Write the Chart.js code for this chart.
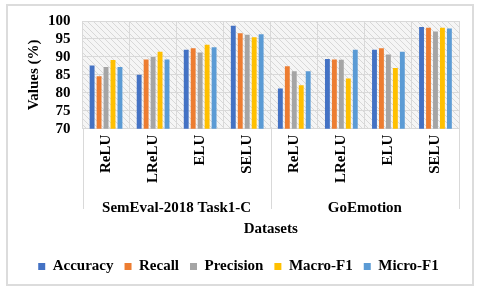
<!DOCTYPE html>
<html>
<head>
<meta charset="utf-8">
<script src="https://cdn.jsdelivr.net/npm/chart.js@4"></script>
<style>
  body { margin: 0; background: #fff; }
  #wrap { position: relative; width: 480px; height: 291px; }
  #frame { position: absolute; left: 6px; top: 4px; width: 464px; height: 278px; border: 2px solid #dcdcdc; pointer-events: none; }
</style>
</head>
<body>
<div id="wrap">
  <canvas id="chart" width="480" height="291"></canvas>
  <div id="frame"></div>
</div>
<script>
var categories = ['ReLU', 'LReLU', 'ELU', 'SELU', 'ReLU', 'LReLU', 'ELU', 'SELU'];
var groups = ['SemEval-2018 Task1-C', 'GoEmotion'];
var yTicks = [70, 75, 80, 85, 90, 95, 100];
var accuracy = [87.6, 85.0, 92.0, 98.7, 81.2, 89.4, 92.0, 98.3];
var recall = [84.6, 89.3, 92.4, 96.6, 87.4, 89.3, 92.4, 98.1];
var precision = [87.2, 90.0, 91.2, 96.2, 86.0, 89.2, 90.7, 97.1];
var macroF1 = [89.1, 91.4, 93.4, 95.5, 82.1, 84.0, 86.9, 98.1];
var microF1 = [87.2, 89.3, 92.7, 96.3, 86.0, 92.0, 91.4, 97.9];

var serif = { family: "'Liberation Serif', 'Times New Roman', serif", size: 15, weight: 'bold' };

// diagonal hatch behind the plot
var hatch = document.createElement('canvas');
hatch.width = 6; hatch.height = 6;
var hc = hatch.getContext('2d');
hc.fillStyle = '#f5f5f5';
hc.fillRect(0, 0, 6, 6);
hc.strokeStyle = '#d8d8d8';
hc.lineWidth = 1;
hc.beginPath();
hc.moveTo(0, 0); hc.lineTo(6, 6);
hc.moveTo(-3, 3); hc.lineTo(3, 9);
hc.moveTo(3, -3); hc.lineTo(9, 3);
hc.stroke();

var hatchPlugin = {
    id: 'hatch',
    beforeDraw: function (chart) {
        var a = chart.chartArea, ctx = chart.ctx;
        ctx.save();
        ctx.fillStyle = ctx.createPattern(hatch, 'repeat');
        ctx.fillRect(a.left, a.top, a.right - a.left, a.bottom - a.top);
        ctx.restore();
    }
};

// group separators running down through the label rows
var separatorPlugin = {
    id: 'separators',
    afterDraw: function (chart) {
        var x = chart.scales.x, x2 = chart.scales.x2, ctx = chart.ctx;
        var bottom = x2.top + 20;
        var xs = [chart.chartArea.left, (x.getPixelForValue(3) + x.getPixelForValue(4)) / 2, chart.chartArea.right];
        ctx.save();
        ctx.strokeStyle = '#d9d9d9';
        ctx.lineWidth = 1;
        ctx.beginPath();
        xs.forEach(function (px) {
            px = Math.round(px) + 0.5;
            ctx.moveTo(px, chart.chartArea.bottom);
            ctx.lineTo(px, bottom);
        });
        ctx.stroke();
        ctx.restore();
    }
};

new Chart(document.getElementById('chart'), {
    type: 'bar',
    data: {
        labels: categories,
        datasets: [
            { label: 'Accuracy', data: accuracy, backgroundColor: '#4472C4' },
            { label: 'Recall', data: recall, backgroundColor: '#ED7D31' },
            { label: 'Precision', data: precision, backgroundColor: '#A5A5A5' },
            { label: 'Macro-F1', data: macroF1, backgroundColor: '#FFC000' },
            { label: 'Micro-F1', data: microF1, backgroundColor: '#5B9BD5' }
        ]
    },
    options: {
        responsive: false,
        animation: false,
        datasets: { bar: { categoryPercentage: 0.74, barPercentage: 0.7 } },
        layout: { padding: { left: 18, right: 21, top: 15, bottom: 7 } },
        scales: {
            y: {
                min: 70,
                max: 100,
                afterBuildTicks: function (axis) {
                    axis.ticks = yTicks.map(function (v) { return { value: v }; });
                },
                ticks: { color: '#000', font: serif, padding: 12, autoSkip: false },
                grid: { color: '#d9d9d9', drawTicks: false },
                border: { color: '#d9d9d9' },
                title: { display: true, text: 'Values (%)', color: '#000', font: serif, padding: { top: 7, bottom: -7 } }
            },
            x: {
                ticks: { color: '#000', font: serif, minRotation: 90, maxRotation: 90, padding: 6, autoSkip: false },
                grid: { color: '#d9d9d9', offset: true, drawTicks: false },
                border: { color: '#d9d9d9' }
            },
            x2: {
                type: 'category',
                position: 'bottom',
                weight: 1,
                labels: groups,
                offset: true,
                ticks: { color: '#000', font: serif, padding: 2 },
                grid: { display: false },
                border: { display: false },
                title: { display: true, text: 'Datasets', color: '#000', font: serif, padding: { top: 1, bottom: 10 } }
            }
        },
        plugins: {
            legend: {
                position: 'bottom',
                labels: { color: '#000', font: serif, boxWidth: 7, boxHeight: 7, padding: 11 }
            },
            tooltip: { enabled: false }
        }
    },
    plugins: [hatchPlugin, separatorPlugin]
});
</script>
</body>
</html>
